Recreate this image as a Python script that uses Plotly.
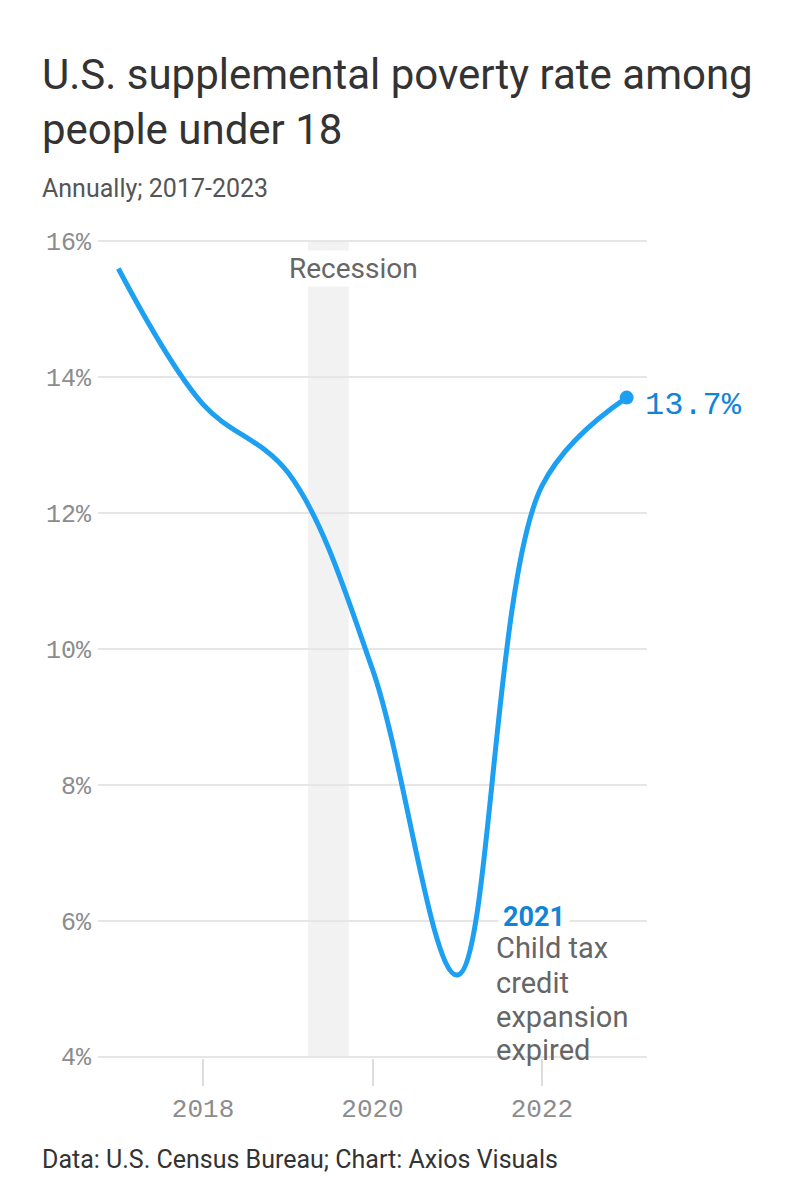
import plotly.graph_objects as go

years = [2017, 2018, 2019, 2020, 2021, 2022, 2023]
rate = [15.6, 13.6, 12.6, 9.7, 5.2, 12.4, 13.7]
y_ticks = [4, 6, 8, 10, 12, 14, 16]
y_tick_labels = ["4%", "6%", "8%", "10%", "12%", "14%", "16%"]
x_ticks = [2018, 2020, 2022]
x_tick_labels = ["2018", "2020", "2022"]
recession = [2019.24, 2019.72]
note_lines = ["Child tax", "credit", "expansion", "expired"]
note_y = [5.6, 5.08, 4.58, 4.1]

LINE = "#1d9ff2"
BLUE_TXT = "#1184d8"
GREY_TXT = "#666666"
TICK_TXT = "#8c8c8c"
SANS = "Roboto, Inter, sans-serif"
MONO = "Liberation Mono, DejaVu Sans Mono, monospace"

PL, PW, PT, PH = 98, 549, 240, 818

def px_x(p):
    return (p - PL) / PW

def px_y(p):
    return 1 - (p - PT) / PH

fig = go.Figure()

fig.add_shape(type="rect", xref="x", yref="paper", x0=recession[0], x1=recession[1],
              y0=0, y1=1, fillcolor="#f2f2f2", line_width=0, layer="below")

fig.add_trace(go.Scatter(x=years, y=rate, mode="lines",
                         line=dict(color=LINE, width=5, shape="spline", smoothing=1.0),
                         hoverinfo="skip", showlegend=False))
fig.add_trace(go.Scatter(x=[years[-1]], y=[rate[-1]], mode="markers",
                         marker=dict(color=LINE, size=14), hoverinfo="skip", showlegend=False))

fig.update_layout(
    width=806, height=1199,
    margin=dict(l=PL, r=806 - PL - PW, t=PT, b=1199 - PT - PH),
    paper_bgcolor="white", plot_bgcolor="white",
    showlegend=False,
    xaxis=dict(range=[2016.76, 2023.24], tickmode="array", tickvals=x_ticks, ticktext=x_tick_labels,
               showgrid=False, zeroline=False, showline=False,
               ticks="outside", ticklen=27, tickcolor="#dddddd", tickwidth=1.5,
               tickfont=dict(family=MONO, size=26, color=TICK_TXT)),
    yaxis=dict(range=[3.98, 16.02], tickmode="array", tickvals=y_ticks, ticktext=y_tick_labels,
               showgrid=True, gridcolor="#e6e6e6", gridwidth=1.5, zeroline=False, showline=False,
               ticks="", ticklabelstandoff=6,
               tickfont=dict(family=MONO, size=25, color=TICK_TXT)),
)

annotations = [
    dict(text="U.S. supplemental poverty rate among<br>people under 18", xref="paper", yref="paper",
         x=px_x(40), y=px_y(48), xanchor="left", yanchor="top", align="left",
         showarrow=False, font=dict(family=SANS, size=42, color="#333333")),
    dict(text="Annually; 2017-2023", xref="paper", yref="paper",
         x=px_x(40), y=px_y(172), xanchor="left", yanchor="top", align="left",
         showarrow=False, font=dict(family=SANS, size=25, color="#555555")),
    dict(text="Data: U.S. Census Bureau; Chart: Axios Visuals", xref="paper", yref="paper",
         x=px_x(40), y=px_y(1143), xanchor="left", yanchor="top", align="left",
         showarrow=False, font=dict(family=SANS, size=25, color="#333333")),
    dict(text="Recession", xref="x", yref="paper", x=2019.77, y=px_y(268),
         xanchor="center", yanchor="middle", showarrow=False, bgcolor="white",
         font=dict(family=SANS, size=28, color=GREY_TXT)),
    dict(text="13.7%", xref="x", yref="y", x=2023, y=13.7, xanchor="left", yanchor="middle",
         xshift=16, yshift=-8, showarrow=False, font=dict(family=MONO, size=32, color=BLUE_TXT)),
    dict(text="<b>2021</b>", xref="x", yref="y", x=2021.48, y=6.06, xanchor="left", yanchor="middle",
         showarrow=False, bgcolor="white", borderpad=4,
         font=dict(family=SANS, size=27, color=BLUE_TXT)),
]
for t, yy in zip(note_lines, note_y):
    annotations.append(dict(text=t, xref="x", yref="y", x=2021.43, y=yy,
                            xanchor="left", yanchor="middle", align="left", showarrow=False,
                            font=dict(family=SANS, size=29, color=GREY_TXT)))
fig.update_layout(annotations=annotations)

fig.write_html("out.html")
